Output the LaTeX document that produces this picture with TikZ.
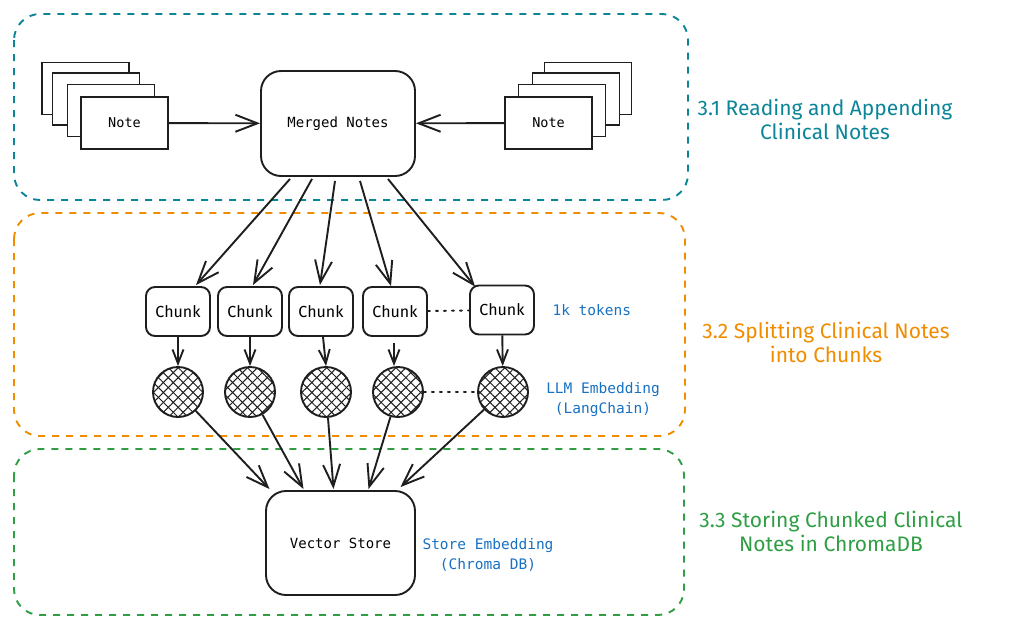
\documentclass[tikz,border=0pt]{standalone}
\usepackage{fontspec}
\setmainfont{Fira Sans}
\newfontfamily\monofont{DejaVu Sans Mono}
\newfontfamily\handfont{Fira Sans}
\usetikzlibrary{arrows.meta,patterns.meta,calc}

\definecolor{ink}{HTML}{1E1E1E}
\definecolor{tealc}{HTML}{0C8599}
\definecolor{orangec}{HTML}{F08C00}
\definecolor{greenc}{HTML}{2F9E44}
\definecolor{bluec}{HTML}{1971C2}

\tikzset{
  stage/.style={draw, line width=1.9pt, dash pattern=on 7pt off 7pt, rounded corners=26pt},
  paper/.style={draw=ink, fill=white, line width=1.9pt, minimum width=87pt, minimum height=52pt, font=\monofont\fontsize{13.5}{16}\selectfont},
  bigbox/.style={draw=ink, fill=white, line width=1.9pt, rounded corners=20pt, minimum width=154pt, minimum height=105pt, font=\monofont\fontsize{14}{17}\selectfont},
  chunkbox/.style={draw=ink, line width=1.9pt, rounded corners=9pt, minimum width=64pt, minimum height=49pt, font=\handfont\fontsize{16}{19}\selectfont},
  emb/.style={circle, draw=ink, line width=1.9pt, minimum size=50pt, inner sep=0pt,
    postaction={pattern={Lines[angle=45,distance=7pt,line width=1pt]}, pattern color=ink},
    postaction={pattern={Lines[angle=-45,distance=7pt,line width=1pt]}, pattern color=ink}},
  flow/.style={draw=ink, line width=1.9pt, -{Straight Barb[length=22pt,width=17pt,line width=1.9pt]}},
  shortflow/.style={draw=ink, line width=1.9pt, -{Straight Barb[length=14pt,width=11pt,line width=1.9pt]}},
  gap/.style={draw=ink, line width=1.9pt, dash pattern=on 2pt off 6pt, line cap=round},
  note/.style={text=bluec, font=\monofont\fontsize{14.5}{20}\selectfont, align=center},
  stagelabel/.style={font=\handfont\fontsize{21}{24}\selectfont, align=center},
}

\begin{document}
\begin{tikzpicture}[x=1pt,y=-1pt]
\useasboundingbox (0,0) rectangle (1024,635);
\fill[white] (0,0) rectangle (1024,635);

% three pipeline stages
\draw[stage, draw=tealc] (14,14) rectangle (688,200);
\draw[stage, draw=orangec] (14,213) rectangle (685,436);
\draw[stage, draw=greenc] (14,449) rectangle (684,615);

\node[stagelabel, text=tealc] (lab1) at (825,119) {3.1 Reading and Appending\\Clinical Notes};
\node[stagelabel, text=orangec] (lab2) at (826,342) {3.2 Splitting Clinical Notes\\into Chunks};
\node[stagelabel, text=greenc] (lab3) at (831,531) {3.3 Storing Chunked Clinical\\Notes in ChromaDB};

% left stack of notes
\node[paper] (l4) at (85.5,88.5) {};
\node[paper] (l3) at (96,99) {};
\node[paper] (l2) at (111,110.5) {};
\node[paper] (lnote) at (124.5,123) {Note};

% right stack of notes
\node[paper] (r4) at (588,88.5) {};
\node[paper] (r3) at (576,99) {};
\node[paper] (r2) at (562,110.5) {};
\node[paper] (rnote) at (548.5,123) {Note};

\node[bigbox] (merged) at (338,123.5) {Merged Notes};

\draw[flow] (lnote) -- (merged);
\draw[flow] (rnote) -- (merged);

% chunks
\node[chunkbox] (c1) at (178,311.5) {Chunk};
\node[chunkbox] (c2) at (250,311.5) {Chunk};
\node[chunkbox] (c3) at (321,311.5) {Chunk};
\node[chunkbox] (c4) at (395,311.5) {Chunk};
\node[chunkbox] (c5) at (502,310) {Chunk};
\draw[gap] (c4) -- (c5);

\draw[flow] ($(merged.south)+(-48,2)$) -- ($(c1.north)+(18,-1)$);
\draw[flow] ($(merged.south)+(-26,2)$) -- ($(c2.north)+(3,-1)$);
\draw[flow] ($(merged.south)+(-3,4)$) -- ($(c3.north)+(-1,-1)$);
\draw[flow] ($(merged.south)+(22,4)$) -- ($(c4.north)+(-4,0)$);
\draw[flow] ($(merged.south)+(50,2)$) -- ($(c5.north)+(-27,2)$);

% embeddings
\node[emb] (e1) at (178,392) {};
\node[emb] (e2) at (250,392) {};
\node[emb] (e3) at (326,392) {};
\node[emb] (e4) at (398,392) {};
\node[emb] (e5) at (503,392) {};
\draw[gap] (e4) -- (e5);

\draw[shortflow] (c1) -- (e1);
\draw[shortflow] (c2) -- (e2);
\draw[shortflow] ($(c3.south)+(2,0)$) -- (e3.north);
\draw[shortflow] ($(c4.south)+(-1,6)$) -- ($(e4.north)+(-4,0)$);
\draw[shortflow] (c5) -- (e5);

\node[note, anchor=west] (tok) at (549,310) {1k tokens};
\node[note] (llm) at (603,400) {LLM Embedding\\(LangChain)};

% vector store
\node[bigbox, minimum width=149pt, minimum height=104pt] (store) at (340.5,543) {Vector Store};
\node[note] (storelab) at (488,555) {Store Embedding\\(Chroma DB)};

\draw[flow] (e1) -- ($(store.north)+(-71,-1)$);
\draw[flow] (e2) -- ($(store.north)+(-37,-1)$);
\draw[flow] (e3) -- ($(store.north)+(-7,-1)$);
\draw[flow] (e4) -- ($(store.north)+(28,-1)$);
\draw[flow] (e5) -- ($(store.north)+(60,-3)$);
\end{tikzpicture}
\end{document}
